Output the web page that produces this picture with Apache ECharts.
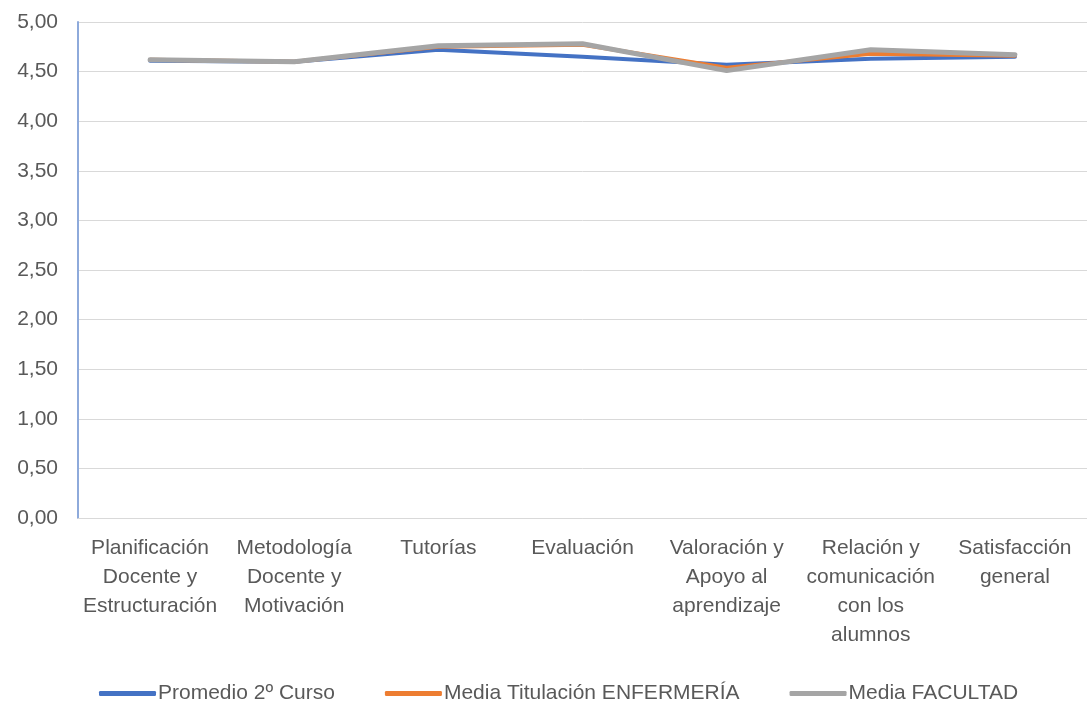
<!DOCTYPE html>
<html>
<head>
<meta charset="utf-8">
<script src="https://cdn.jsdelivr.net/npm/echarts@6/dist/echarts.min.js"></script>
<style>
  html, body { margin: 0; padding: 0; background: #fff; }
  #chart { width: 1087px; height: 702px; }
</style>
</head>
<body>
<div id="chart"></div>
<script>
// categorías (eje X)
const categories = [
  'Planificación\nDocente y\nEstructuración',
  'Metodología\nDocente y\nMotivación',
  'Tutorías',
  'Evaluación',
  'Valoración y\nApoyo al\naprendizaje',
  'Relación y\ncomunicación\ncon los\nalumnos',
  'Satisfacción\ngeneral'
]

// valores de cada serie
const promedioCurso = [4.61, 4.60, 4.72, 4.65, 4.57, 4.63, 4.65]
const mediaTitulacion = [4.62, 4.60, 4.75, 4.77, 4.54, 4.68, 4.66]
const mediaFacultad = [4.62, 4.60, 4.76, 4.78, 4.51, 4.72, 4.67]

const seriesNames = ['Promedio 2º Curso', 'Media Titulación ENFERMERÍA', 'Media FACULTAD']

const chart = echarts.init(document.getElementById('chart'))

const makeLine = (name, data, color, width) => ({
  name,
  type: 'line',
  data,
  color,
  showSymbol: false,
  symbol: 'none',
  lineStyle: { color, width, cap: 'round', join: 'round' }
})

chart.setOption({
  animation: false,
  textStyle: { fontFamily: 'Liberation Sans, Arial, sans-serif' },
  grid: {
    left: 78,
    right: 0,
    top: 22,
    bottom: 184
  },
  legend: {
    data: seriesNames,
    left: 94,
    top: 678,
    icon: 'roundRect',
    itemWidth: 57,
    itemHeight: 5,
    itemGap: 50,
    textStyle: { color: '#595959', fontSize: 21, padding: [0, 0, 0, -3] }
  },
  xAxis: {
    type: 'category',
    data: categories,
    boundaryGap: true,
    axisTick: { show: false },
    axisLine: { lineStyle: { color: '#d9d9d9', width: 1 } },
    axisLabel: {
      interval: 0,
      color: '#595959',
      fontSize: 21,
      lineHeight: 29,
      margin: 16
    }
  },
  yAxis: {
    type: 'value',
    min: 0,
    max: 5,
    interval: 0.5,
    axisLine: { show: true, lineStyle: { color: '#8eaadb', width: 2 } },
    axisTick: { show: false },
    splitLine: { lineStyle: { color: '#d9d9d9', width: 1 } },
    axisLabel: {
      color: '#595959',
      fontSize: 21,
      margin: 20,
      formatter: v => v.toFixed(2).replace('.', ',')
    }
  },
  series: [
    makeLine(seriesNames[0], promedioCurso, '#4472c4', 4),
    makeLine(seriesNames[1], mediaTitulacion, '#ed7d31', 4),
    makeLine(seriesNames[2], mediaFacultad, '#a5a5a5', 5)
  ]
})
</script>
</body>
</html>
